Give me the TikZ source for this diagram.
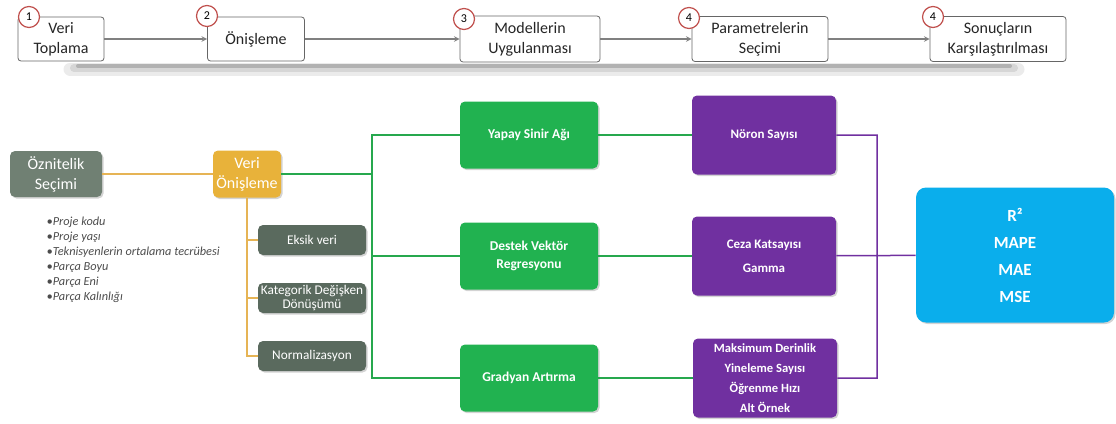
\documentclass[tikz,border=0pt]{standalone}
\usepackage{fontspec}
\setmainfont{Carlito}
\usetikzlibrary{shadows}

\definecolor{numred}{RGB}{192,80,77}
\definecolor{arrgray}{RGB}{128,128,128}
\definecolor{oznfill}{RGB}{112,128,115}
\definecolor{subfill}{RGB}{90,106,94}
\definecolor{goldfill}{RGB}{232,178,58}
\definecolor{orline}{RGB}{230,180,85}
\definecolor{grnfill}{RGB}{33,178,80}
\definecolor{grnline}{RGB}{38,168,78}
\definecolor{purfill}{RGB}{112,48,160}
\definecolor{cyanfill}{RGB}{10,174,236}

\begin{document}
\begin{tikzpicture}[x=1pt, y=-1pt, >=stealth, thick,
  topbox/.style={draw=black!60, fill=white, rounded corners=3pt, align=center,
    inner sep=0pt, text=black!85, font=\fontsize{16}{20}\selectfont},
  numc/.style={circle, draw=numred, line width=1.2pt, fill=white,
    minimum size=21pt, inner sep=0pt, font=\fontsize{12}{12}\selectfont},
  flow/.style={->, draw=arrgray, line width=1.5pt},
  colbox/.style={rounded corners=5pt, align=center, inner sep=0pt, text=white,
    drop shadow={opacity=0.35, shadow xshift=1.5pt, shadow yshift=-1.5pt}},
  oznbox/.style={colbox, fill=oznfill, minimum width=92pt, minimum height=46pt,
    font=\fontsize{16}{20}\selectfont},
  goldbox/.style={colbox, fill=goldfill, minimum width=68pt, minimum height=47pt,
    font=\fontsize{16}{20}\selectfont},
  subbox/.style={colbox, fill=subfill, minimum width=108pt, minimum height=30pt,
    font=\fontsize{13.3}{14}\selectfont},
  grnbox/.style={colbox, fill=grnfill, minimum width=138pt, minimum height=67pt,
    font=\bfseries\fontsize{13.5}{18}\selectfont},
  purbox/.style={colbox, fill=purfill, minimum width=144pt, minimum height=79pt,
    font=\bfseries\fontsize{13}{24}\selectfont},
  cyanbox/.style={colbox, fill=cyanfill, rounded corners=10pt, minimum width=198pt,
    minimum height=135pt, font=\bfseries\fontsize{17}{27}\selectfont},
  orconn/.style={draw=orline, line width=1.5pt},
  grconn/.style={draw=grnline, line width=1.5pt},
  puconn/.style={draw=purfill, line width=1.5pt}]

  \useasboundingbox (0,0) rectangle (1116,423);

  % process steps
  \draw[line width=13pt, black!8, line cap=round] (70,69) -- (1018,69);
  \draw[line width=8pt, black!16, line cap=round] (74,68) -- (1014,68);
  \draw[line width=4pt, black!30, line cap=round] (78,66) -- (1010,66);

  \node[topbox, minimum width=86pt, minimum height=44pt] (t1) at (61,39) {Veri\\Toplama};
  \node[topbox, minimum width=97pt, minimum height=44pt] (t2) at (256,39) {Önişleme};
  \node[topbox, minimum width=140pt, minimum height=46pt] (t3) at (530,39) {Modellerin\\Uygulanması};
  \node[topbox, minimum width=136pt, minimum height=45pt] (t4) at (760,39) {Parametrelerin\\Seçimi};
  \node[topbox, minimum width=136pt, minimum height=45pt] (t5) at (998,39) {Sonuçların\\Karşılaştırılması};

  \node[numc] (n1) at (29,17) {1};
  \node[numc] (n2) at (207,16) {2};
  \node[numc] (n3) at (464,19) {3};
  \node[numc] (n4) at (689,18) {4};
  \node[numc] (n5) at (933,17) {4};

  \path (t1) edge[flow] (t2)
        (t2) edge[flow] (t3)
        (t3) edge[flow] (t4)
        (t4) edge[flow] (t5);

  % pipeline
  \node[oznbox] (oz) at (56,174) {Öznitelik\\Seçimi};
  \node[goldbox] (vo) at (247,174) {Veri\\Önişleme};
  \node[align=left, anchor=north west, text=black!70,
    font=\itshape\fontsize{12.3}{15}\selectfont] (feat) at (43,213)
    {•Proje kodu\\•Proje yaşı\\•Teknisyenlerin ortalama tecrübesi\\•Parça Boyu\\•Parça Eni\\•Parça Kalınlığı};

  \node[subbox] (ek) at (312,240) {Eksik veri};
  \node[subbox] (kd) at (312,298) {Kategorik Değişken\\Dönüşümü};
  \node[subbox] (nz) at (312,356) {Normalizasyon};

  \node[grnbox] (ysa) at (529,135) {Yapay Sinir Ağı};
  \node[grnbox] (dvr) at (529,256) {Destek Vektör\\Regresyonu};
  \node[grnbox] (ga) at (529,378) {Gradyan Artırma};

  \node[purbox] (ns) at (764,135) {Nöron Sayısı};
  \node[purbox] (cg) at (764,256) {Ceza Katsayısı\\Gamma};
  \node[purbox, font=\bfseries\fontsize{12.6}{20}\selectfont] (md) at (765,378)
    {Maksimum Derinlik\\Yineleme Sayısı\\Öğrenme Hızı\\Alt Örnek};

  \node[cyanbox] (met) at (1015,255) {R²\\MAPE\\MAE\\MSE};

  \coordinate (gb) at (372,174);
  \coordinate (pb) at (877,256);

  \draw[orconn] (oz) -- (vo);
  \draw[orconn] (vo.south) |- (ek.west)
                (vo.south) |- (kd.west)
                (vo.south) |- (nz.west);
  \draw[grconn] (vo.east) -- (gb)
                (gb) |- (ysa.west)
                (gb) |- (dvr.west)
                (gb) |- (ga.west);
  \draw[grconn] (ysa) -- (ns) (dvr) -- (cg) (ga) -- (md);
  \draw[puconn] (ns.east) -| (pb)
                (md.east) -| (pb)
                (cg) -- (met);

\end{tikzpicture}
\end{document}
